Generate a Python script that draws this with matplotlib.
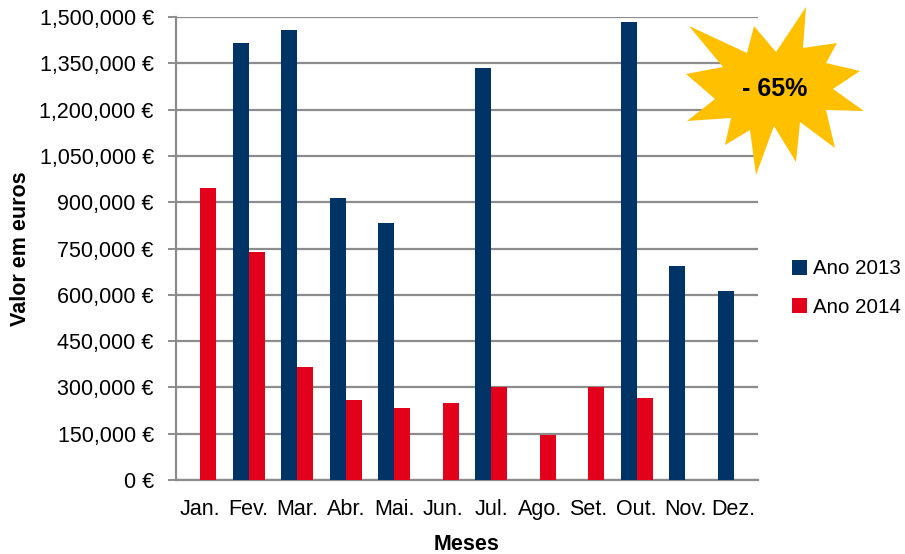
import matplotlib
matplotlib.use("Agg")
import matplotlib.pyplot as plt
import numpy as np
from matplotlib.patches import Polygon
from matplotlib.ticker import FuncFormatter, MultipleLocator

plt.rcParams['font.family'] = ['Liberation Sans', 'DejaVu Sans']

months = ["Jan.", "Fev.", "Mar.", "Abr.", "Mai.", "Jun.", "Jul.", "Ago.",
          "Set.", "Out.", "Nov.", "Dez."]
ano_2013 = [0, 1415000, 1457000, 914000, 832000, 0, 1336000, 0,
            0, 1484000, 694000, 611000]
ano_2014 = [946000, 738000, 365000, 260000, 233000, 250000, 300000, 146000,
            300000, 267000, 0, 0]
badge_text = "- 65%"

W, H = 905, 554
fig = plt.figure(figsize=(W / 100, H / 100), dpi=100)
ax = fig.add_axes([176 / W, 1 - 480 / H, (758 - 176) / W, (480 - 17) / H])

x = np.arange(len(months))
bw = 0.33
ax.bar(x - bw / 2, ano_2013, bw, color="#003366", label="Ano 2013", zorder=3)
ax.bar(x + bw / 2, ano_2014, bw, color="#E2001A", label="Ano 2014", zorder=3)

ax.set_xlim(-0.5, len(months) - 0.5)
ax.set_ylim(0, 1500000)
ax.yaxis.set_major_locator(MultipleLocator(150000))
ax.yaxis.set_major_formatter(FuncFormatter(lambda v, p: f"{int(round(v)):,} €"))
ax.set_xticks(x)
ax.set_xticklabels(months)

grid_c = "#8C8C8C"
ax.grid(axis="y", color=grid_c, linewidth=1.6, zorder=0)
ax.set_axisbelow(True)
for s in ("top", "right"):
    ax.spines[s].set_visible(False)
for s in ("left", "bottom"):
    ax.spines[s].set_color(grid_c)
    ax.spines[s].set_linewidth(1.6)
ax.tick_params(axis="y", length=6, width=1.4, color=grid_c, labelsize=15.5,
               pad=10)
ax.tick_params(axis="x", length=0, labelsize=15.5, pad=14)

ax.set_ylabel("Valor em euros", fontsize=15.5, fontweight="bold", labelpad=6)
ax.set_xlabel("Meses", fontsize=15.5, fontweight="bold", labelpad=10)

leg = fig.legend(loc="center left", bbox_to_anchor=(792 / W, 1 - 288 / H),
                 frameon=False, fontsize=14.8, handlelength=0.75,
                 handleheight=0.75, handletextpad=0.25, labelspacing=0.95,
                 borderpad=0, borderaxespad=0)

# starburst badge (vertex positions in pixels, outer/inner alternating)
star_px = [(806, 7), (803, 48), (837, 43), (826, 63), (860, 71), (833, 89),
           (864, 111), (826, 110), (835, 148), (800, 122), (796, 162),
           (774, 126), (756, 175), (750, 130), (725, 145), (731, 118),
           (687, 121), (715, 99), (686, 74), (723, 67), (689, 26),
           (747, 53), (754, 26), (776, 52)]
star = Polygon([(px / W, 1 - py / H) for px, py in star_px], closed=True,
               facecolor="#FFC000", edgecolor="none",
               transform=fig.transFigure, zorder=5)
fig.add_artist(star)
fig.text(775 / W, 1 - 89 / H, badge_text, ha="center", va="center",
         fontsize=18, fontweight="bold", color="black", zorder=6)

fig.savefig("out.png", dpi=100)
